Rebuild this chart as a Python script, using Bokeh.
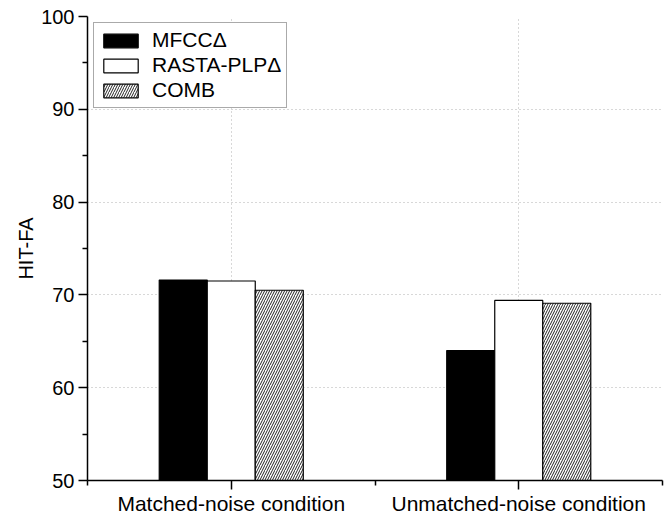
from bokeh.plotting import figure
from bokeh.models import ColumnDataSource, FixedTicker, Legend, LegendItem, Range1d
from bokeh.transform import dodge
from bokeh.embed import file_html
from bokeh.resources import INLINE

# ---- data ----
categories = ["Matched-noise condition", "Unmatched-noise condition"]
cat_pos = [1, 2]
mfcc = [71.6, 64.0]
rasta = [71.5, 69.4]
comb = [70.5, 69.1]
series_names = ["MFCC\u0394", "RASTA-PLP\u0394", "COMB"]
y_ticks = [50, 60, 70, 80, 90, 100]
y_minor = [55, 65, 75, 85, 95]

FONT = "Liberation Sans"
BW = 0.167

src = ColumnDataSource(dict(x=cat_pos, mfcc=mfcc, rasta=rasta, comb=comb))

p = figure(width=664, height=517, output_backend="svg", toolbar_location=None,
           x_range=Range1d(0.5, 2.5), y_range=Range1d(50, 100),
           min_border_left=87, min_border_top=16, min_border_right=2, min_border_bottom=36)
p.outline_line_color = None
p.background_fill_color = "white"
p.border_fill_color = "white"

r1 = p.vbar(x=dodge("x", -BW, range=p.x_range), top="mfcc", bottom=50, width=BW, source=src,
            fill_color="black", line_color="black", line_width=1.2)
r2 = p.vbar(x=dodge("x", 0, range=p.x_range), top="rasta", bottom=50, width=BW, source=src,
            fill_color="white", line_color="black", line_width=1.2)
r3 = p.vbar(x=dodge("x", BW, range=p.x_range), top="comb", bottom=50, width=BW, source=src,
            fill_color="white", line_color="black", line_width=1.2,
            hatch_pattern="right_diagonal_line", hatch_color="#222222", hatch_scale=5, hatch_weight=1)

# axes
p.xaxis.ticker = FixedTicker(ticks=cat_pos, minor_ticks=[0.5, 1.5, 2.5])
p.xaxis.major_label_overrides = {c: lab for c, lab in zip(cat_pos, categories)}
p.yaxis.ticker = FixedTicker(ticks=y_ticks, minor_ticks=y_minor)
p.yaxis.axis_label = "HIT-FA"

for ax in (p.xaxis[0], p.yaxis[0]):
    ax.axis_line_color = "black"
    ax.axis_line_width = 1.5
    ax.major_tick_line_color = "black"
    ax.major_tick_line_width = 1.5
    ax.minor_tick_line_color = "black"
    ax.minor_tick_line_width = 1.5
    ax.major_tick_in = 0
    ax.major_tick_out = 9
    ax.minor_tick_in = 0
    ax.minor_tick_out = 5
    ax.major_label_text_font = FONT
    ax.major_label_text_color = "black"
    ax.axis_label_text_font = FONT
    ax.axis_label_text_font_size = "20px"
    ax.axis_label_text_font_style = "normal"
    ax.axis_label_text_color = "black"

p.xaxis.major_label_text_font_size = "21px"
p.yaxis.major_label_text_font_size = "20px"
p.xaxis.major_label_standoff = 2
p.yaxis.major_label_standoff = 4
p.yaxis.axis_label_standoff = 1

# grid
p.xgrid.grid_line_color = "#b0b0b0"
p.xgrid.grid_line_dash = "1 3"
p.xgrid.grid_line_width = 1
p.ygrid.grid_line_color = "#b0b0b0"
p.ygrid.grid_line_dash = "1 3"
p.ygrid.grid_line_width = 1

legend = Legend(items=[LegendItem(label=series_names[0], renderers=[r1]),
                       LegendItem(label=series_names[1], renderers=[r2]),
                       LegendItem(label=series_names[2], renderers=[r3])],
                location="top_left")
legend.margin = 6
legend.padding = 5
legend.spacing = 1
legend.glyph_width = 43
legend.glyph_height = 17
legend.label_height = 20
legend.label_standoff = 10
legend.label_text_font = FONT
legend.label_text_font_size = "21px"
legend.label_text_color = "black"
legend.border_line_color = "#555555"
legend.border_line_width = 1.2
legend.background_fill_alpha = 1
p.add_layout(legend)

open("out.html", "w").write(file_html(p, INLINE))
